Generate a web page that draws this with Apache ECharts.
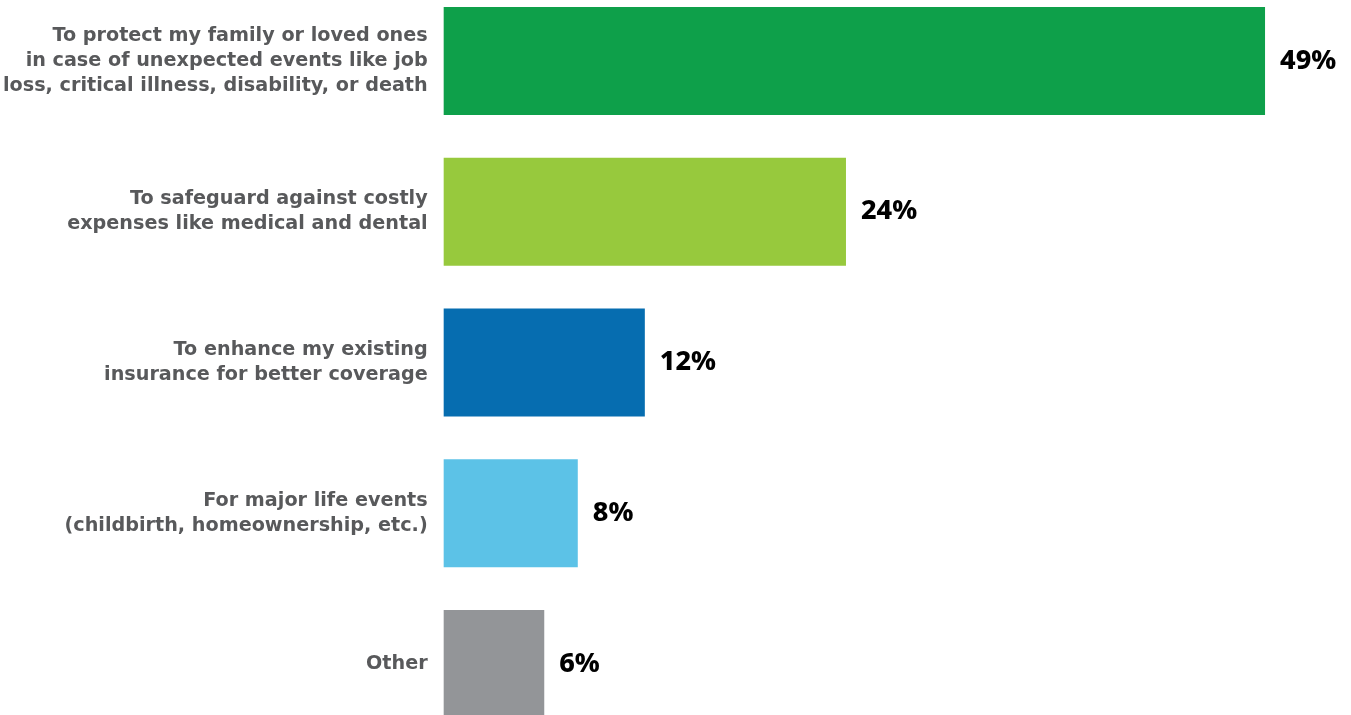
<!DOCTYPE html>
<html>
<head>
<meta charset="utf-8">
<style>
  html, body { margin: 0; padding: 0; background: #ffffff; }
  #chart { width: 1351px; height: 715px; }
</style>
<script src="https://cdn.jsdelivr.net/npm/echarts@6/dist/echarts.min.js"></script>
</head>
<body>
<div id="chart"></div>
<script>
// Survey reasons, top to bottom
const categories = [
  'To protect my family or loved ones\nin case of unexpected events like job\nloss, critical illness, disability, or death',
  'To safeguard against costly\nexpenses like medical and dental',
  'To enhance my existing\ninsurance for better coverage',
  'For major life events\n(childbirth, homeownership, etc.)',
  'Other'
];
const shares = [49, 24, 12, 8, 6];
const barColors = ['#0ea04a', '#97c93d', '#066db0', '#5cc2e7', '#939598'];

const chart = echarts.init(document.getElementById('chart'), null, { renderer: 'canvas' });

chart.setOption({
  animation: false,
  // categories sit on the ticks, so the first and last bar centres span the grid height
  grid: { left: 443, top: 61, width: 838.8, height: 603, containLabel: false },
  xAxis: {
    type: 'value', min: 0, max: 50,
    show: false
  },
  yAxis: {
    type: 'category',
    inverse: true,
    boundaryGap: false,
    data: categories,
    axisLine: { show: false },
    axisTick: { show: false },
    splitLine: { show: false },
    axisLabel: {
      margin: 16,
      align: 'right',
      color: '#58595b',
      fontFamily: 'DejaVu Sans',
      fontWeight: 'bold',
      fontSize: 19.2,
      lineHeight: 25,
      padding: [5, 0, 0, 0]
    }
  },
  series: [{
    type: 'bar',
    barWidth: 108,
    data: shares.map((v, i) => ({ value: v, itemStyle: { color: barColors[i] } })),
    label: {
      show: true,
      position: 'right',
      distance: 15,
      formatter: '{c}%',
      color: '#000000',
      fontFamily: 'Noto Sans',
      fontWeight: 800,
      fontSize: 27,
      padding: [2, 0, 0, 0]
    }
  }]
});
</script>
</body>
</html>
